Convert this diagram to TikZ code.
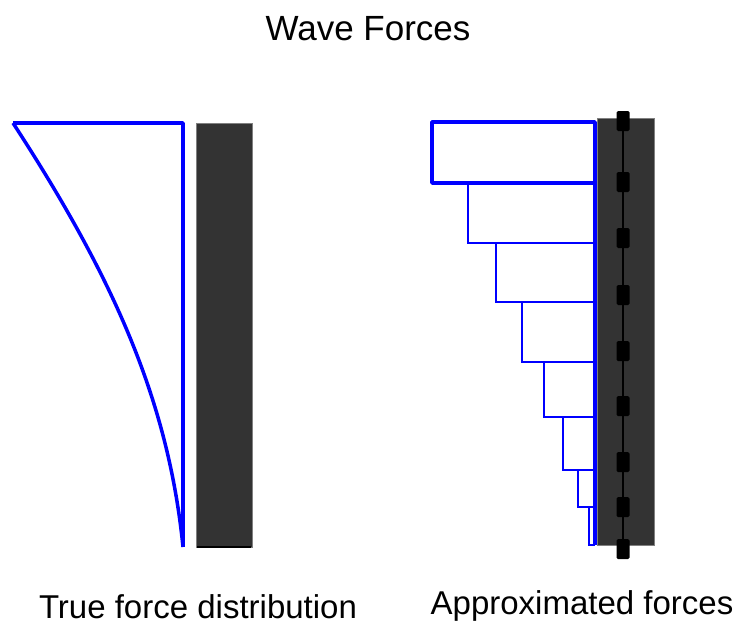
\documentclass[tikz,border=0pt]{standalone}
\usepackage{fontspec}
\setmainfont{Liberation Sans}
\definecolor{wallgray}{HTML}{333333}
\tikzset{
  label text/.style={inner sep=0pt, anchor=base, font=\fontsize{33}{38}\selectfont},
  force line/.style={blue, line width=3.5pt, line join=round},
  bar line/.style={blue, line width=2.2pt},
  wall/.style={fill=wallgray, draw=gray, line width=0.5pt}
}
\begin{document}
\begin{tikzpicture}[x=1pt,y=-1pt]
\useasboundingbox (0,0) rectangle (740,627);
\node[label text, font=\fontsize{35}{40}\selectfont] (title) at (368,40) {Wave Forces};

% true force distribution
\draw[wall] (196,123) rectangle (252,547);
\draw[black, line width=1.2pt] (197,547)--(251,547);
\draw[force line] (13,123) .. controls (110.5,273) and (168,397) .. (183,547);
\draw[force line] (13,123)--(183,123)--(183,547);
\node[label text] (truelabel) at (198,618) {True force distribution};

% approximated forces
\draw[wall] (597,118) rectangle (654,545);
\draw[black, line width=2.5pt] (623,112)--(623,558);
\foreach \y in {121,182,238,295,351,406,462,507,549}
  \fill[black, rounded corners=1.5pt] (616.5,\y-10) rectangle (629.5,\y+10);
\draw[force line] (432,122) rectangle (595,183);
\draw[bar line] (595,183)--(468,183)--(468,243)--(595,243);
\draw[bar line] (496,243)--(496,302)--(595,302);
\draw[bar line] (522,302)--(522,362)--(595,362);
\draw[bar line] (544,362)--(544,417)--(595,417);
\draw[bar line] (563,417)--(563,470)--(595,470);
\draw[bar line] (578,470)--(578,507)--(595,507);
\draw[bar line] (589,507)--(589,545)--(595,545);
\draw[force line] (595,122)--(595,545);
\node[label text] (approxlabel) at (582,614) {Approximated forces};
\end{tikzpicture}
\end{document}
